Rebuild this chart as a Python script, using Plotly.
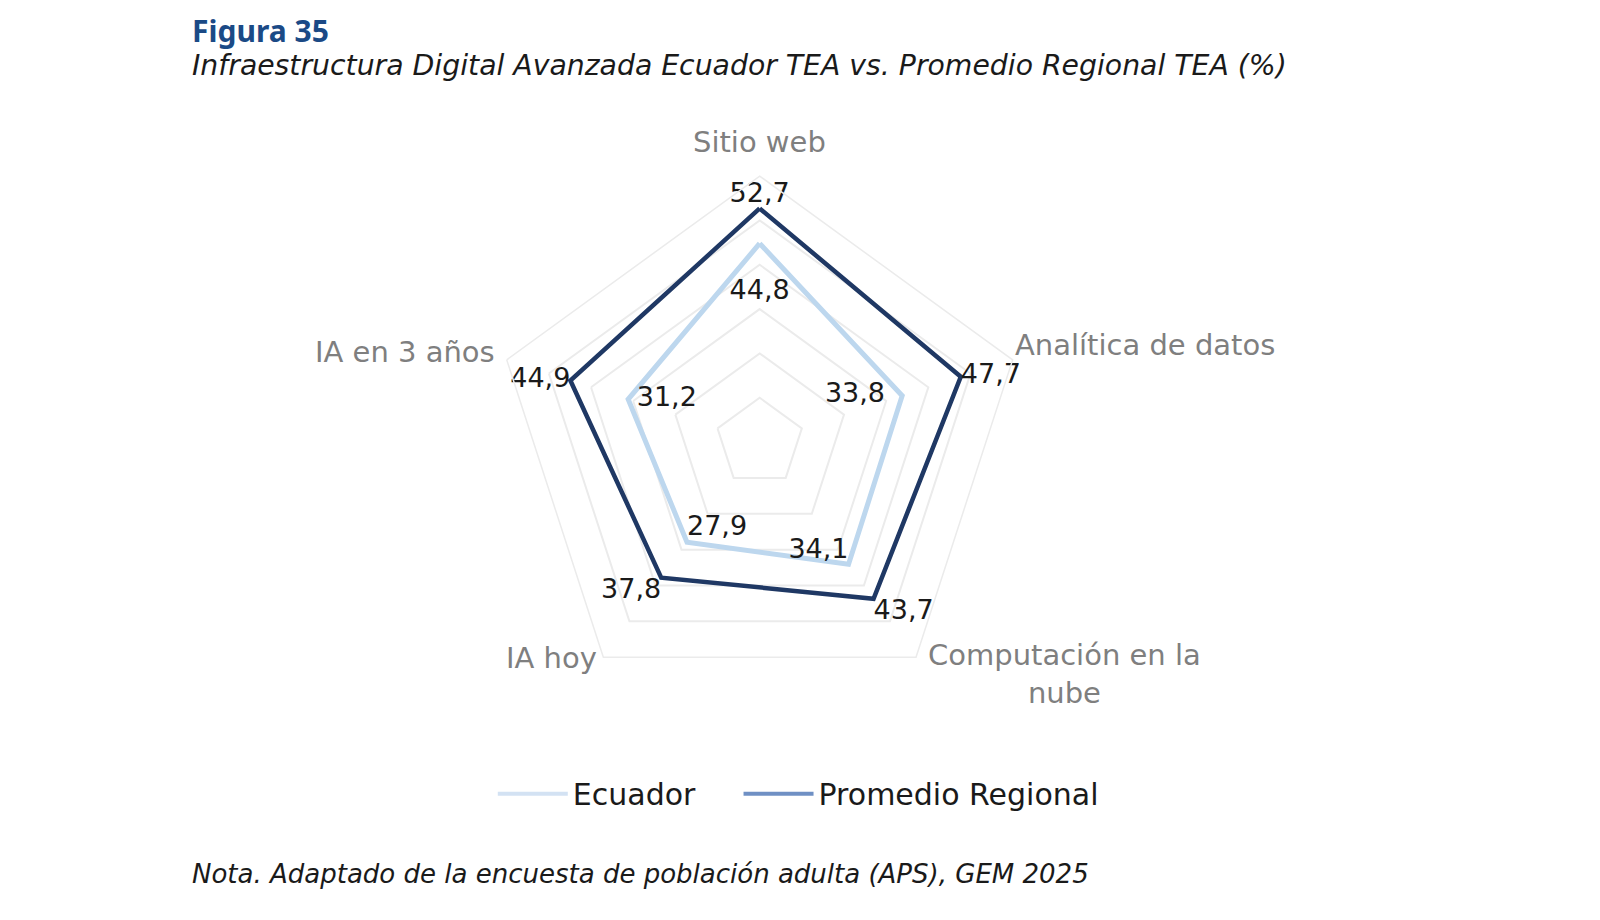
import plotly.graph_objects as go

# Categorias (sentido horario desde arriba)
categorias = ['Sitio web', 'Analítica de datos', 'Computación en la<br>nube', 'IA hoy', 'IA en 3 años']
ecuador = [44.8, 33.8, 34.1, 27.9, 31.2]
promedio = [52.7, 47.7, 43.7, 37.8, 44.9]

pos_ecuador = ['bottom center', 'middle left', 'top left', 'top right', 'middle right']
pos_promedio = ['top center', 'middle right', 'bottom right', 'bottom left', 'middle left']

# donde va cada nombre de categoria (papel): x, y, xanchor
pos_categorias = [(0.4694, 0.8543, 'center'), (0.6282, 0.6336, 'left'), (0.6606, 0.2760, 'center'),
                  (0.3394, 0.2934, 'center'), (0.3056, 0.6260, 'right')]

NBSP = '\u00a0'


def etiquetas(valores):
    return [f'{v:.1f}'.replace('.', ',') for v in valores] + ['']


fuente = 'DejaVu Sans'

# pequeños ajustes de posicion de algunas etiquetas
txt_ecuador = etiquetas(ecuador)
txt_ecuador[0] = '<br>' + txt_ecuador[0]
txt_ecuador[1] = txt_ecuador[1] + NBSP * 2
txt_ecuador[4] = NBSP + txt_ecuador[4]

fig = go.Figure()

fig.add_trace(go.Scatterpolar(
    r=ecuador + ecuador[:1], theta=categorias + categorias[:1],
    mode='lines+text', text=txt_ecuador,
    textposition=pos_ecuador + ['middle center'],
    textfont=dict(family=fuente, size=27, color='#1a1a1a'),
    line=dict(color='#bdd7ee', width=5), showlegend=False, name='Ecuador'
))
fig.add_trace(go.Scatterpolar(
    r=promedio + promedio[:1], theta=categorias + categorias[:1],
    mode='lines+text', text=etiquetas(promedio),
    textposition=pos_promedio + ['middle center'],
    textfont=dict(family=fuente, size=27, color='#1a1a1a'),
    line=dict(color='#1f3864', width=4.5), showlegend=False, name='Promedio Regional'
))

# trazas solo para la leyenda
fig.add_trace(go.Scatterpolar(r=[None], theta=[categorias[0]], mode='lines', name='Ecuador' + NBSP * 4,
                              line=dict(color='#d3e2f3', width=4)))
fig.add_trace(go.Scatterpolar(r=[None], theta=[categorias[0]], mode='lines', name='Promedio Regional',
                              line=dict(color='#6f90c4', width=4)))

anotaciones = [
    dict(text='<b>Figura 35</b>', x=0.114, y=1.0, xref='paper', yref='paper',
         xanchor='left', yanchor='top', showarrow=False,
         font=dict(family='Noto Sans', size=30, color='#1b4a86')),
    dict(text='<i>Infraestructura Digital Avanzada Ecuador TEA vs. Promedio Regional TEA (%)</i>',
         x=0.114, y=0.937, xref='paper', yref='paper', xanchor='left', yanchor='middle',
         showarrow=False, font=dict(family=fuente, size=28.3, color='#1a1a1a')),
    dict(text='<i>Nota. Adaptado de la encuesta de población adulta (APS), GEM 2025</i>',
         x=0.114, y=0.059, xref='paper', yref='paper', xanchor='left', yanchor='middle',
         showarrow=False, font=dict(family=fuente, size=26, color='#1a1a1a')),
]
for cat, (x, y, anc) in zip(categorias, pos_categorias):
    anotaciones.append(dict(text=cat, x=x, y=y, xref='paper', yref='paper', xanchor=anc,
                            yanchor='middle', align='center', showarrow=False,
                            font=dict(family=fuente, size=29, color='#7f7f7f')))

fig.update_layout(
    width=1600, height=920,
    margin=dict(l=0, r=0, t=0, b=0),
    paper_bgcolor='white',
    polar=dict(
        domain=dict(x=[0.3035, 0.6361], y=[0.2391, 0.8173]),
        bgcolor='white',
        gridshape='linear',
        radialaxis=dict(range=[0, 60], dtick=10, showticklabels=False, showline=False,
                        ticks='', gridcolor='#ebebeb', gridwidth=1.5),
        angularaxis=dict(direction='clockwise', rotation=90, showgrid=False, ticks='',
                         showticklabels=False, linecolor='#ebebeb', linewidth=1.5),
    ),
    legend=dict(orientation='h', x=0.303, xanchor='left', y=0.146, yanchor='middle',
                font=dict(family=fuente, size=30, color='#1a1a1a'), itemwidth=70),
    annotations=anotaciones,
)

fig.write_html('out.html')
